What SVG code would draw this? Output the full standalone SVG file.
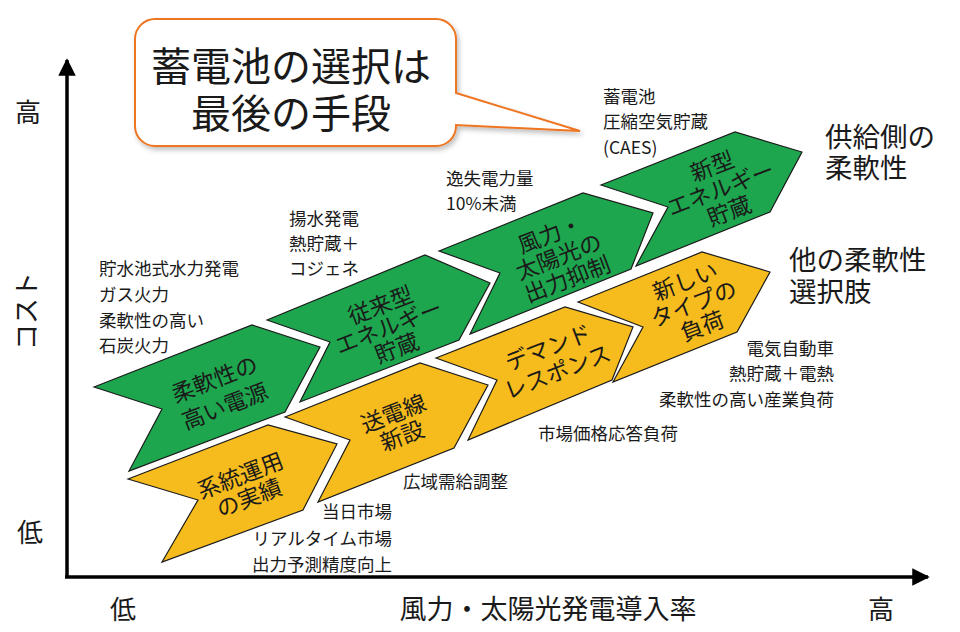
<svg xmlns="http://www.w3.org/2000/svg" width="960" height="632" viewBox="0 0 960 632">
<defs>
<style>
text{font-family:"Noto Sans CJK JP","Noto Sans",sans-serif;fill:#1a1a1a}
.g{fill:#1da64e;stroke:#1a1a1a;stroke-width:1.2;stroke-linejoin:miter}
.y{fill:#f6bb1c;stroke:#1a1a1a;stroke-width:1.2;stroke-linejoin:miter}
.lab{font-size:22.5px;text-anchor:middle;dominant-baseline:central}
.note{font-size:17.5px;dominant-baseline:central}
.r{text-anchor:end}
.big{font-size:27.5px;dominant-baseline:central}
.ax{font-size:26px;text-anchor:middle;dominant-baseline:central}
.axis{stroke:#000;stroke-width:3.5;fill:none}
</style>
<marker id="arr" viewBox="0 0 10 10" refX="9" refY="5" markerWidth="5" markerHeight="5" markerUnits="strokeWidth" orient="auto">
<path d="M0,0 L10,5 L0,10 Z" fill="#000"/>
</marker>
<filter id="sh" x="-10%" y="-10%" width="130%" height="140%">
<feDropShadow dx="2" dy="3" stdDeviation="2.5" flood-color="#000" flood-opacity="0.25"/>
</filter>
</defs>
<rect width="960" height="632" fill="#fff"/>

<g id="connectors">
<line class="axis" x1="67" y1="577" x2="67" y2="60" marker-end="url(#arr)"/>
<line class="axis" x1="65" y1="577" x2="928" y2="577" marker-end="url(#arr)"/>
</g>

<g id="callout">
<path d="M155,19 H436 A20,20 0 0 1 456,39 V93 L580,131 L456,125 V126 A20,20 0 0 1 436,146 H155 A20,20 0 0 1 135,126 V39 A20,20 0 0 1 155,19 Z" fill="#fff" stroke="#ee7522" stroke-width="2" filter="url(#sh)"/>
<text x="291" y="64" style="font-size:40px;text-anchor:middle;dominant-baseline:central">蓄電池の選択は</text>
<text x="291" y="111" style="font-size:40px;text-anchor:middle;dominant-baseline:central">最後の手段</text>
</g>

<g id="g1">
<polygon class="g" points="94,387 252,325 320,347 285,412 129,471 162,409"/>
<g transform="translate(219,391) rotate(-21)">
<text class="lab" x="0" y="-14.5">柔軟性の</text>
<text class="lab" x="0" y="14.5">高い電源</text>
</g>
</g>
<g id="g2">
<polygon class="g" points="267,320 425,255 490,283 459,340 300,402 330,342"/>
<g transform="translate(388,325) rotate(-21)">
<text class="lab" x="0" y="-23">従来型</text>
<text class="lab" x="0" y="0">エネルギー</text>
<text class="lab" x="0" y="23">貯蔵</text>
</g>
</g>
<g id="g3">
<polygon class="g" points="439,251 583,193 653,213 631,269 470,334 500,273"/>
<g transform="translate(558,255) rotate(-21)">
<text class="lab" x="0" y="-24">風力・</text>
<text class="lab" x="0" y="0">太陽光の</text>
<text class="lab" x="0" y="24">出力抑制</text>
</g>
</g>
<g id="g4">
<polygon class="g" points="601,185 735,132 802,152 770,212 636,266 668,207"/>
<g transform="translate(720,187) rotate(-21)">
<text class="lab" x="0" y="-24">新型</text>
<text class="lab" x="0" y="0">エネルギー</text>
<text class="lab" x="0" y="24">貯蔵</text>
</g>
</g>

<g id="y1">
<polygon class="y" points="128,479 268,425 337,444 303,510 162,562 198,500"/>
<g transform="translate(244,485) rotate(-21)">
<text class="lab" x="0" y="-12">系統運用</text>
<text class="lab" x="0" y="12">の実績</text>
</g>
</g>
<g id="y2">
<polygon class="y" points="285,417 420,363 488,385 454,448 318,502 350,440"/>
<g transform="translate(397,423) rotate(-21)">
<text class="lab" x="0" y="-12">送電線</text>
<text class="lab" x="0" y="12">新設</text>
</g>
</g>
<g id="y3">
<polygon class="y" points="436,358 565,307 633,327 612,380 468,440 497,380"/>
<g transform="translate(552,358) rotate(-21)">
<text class="lab" x="0" y="-13">デマンド</text>
<text class="lab" x="0" y="13">レスポンス</text>
</g>
</g>
<g id="y4">
<polygon class="y" points="578,302 702,252 770,272 737,332 613,382 643,327"/>
<g transform="translate(693,302) rotate(-21)">
<text class="lab" x="0" y="-24">新しい</text>
<text class="lab" x="0" y="0">タイプの</text>
<text class="lab" x="0" y="24">負荷</text>
</g>
</g>

<g id="notes">
<text class="note" x="99" y="267">貯水池式水力発電</text>
<text class="note" x="99" y="293">ガス火力</text>
<text class="note" x="99" y="319">柔軟性の高い</text>
<text class="note" x="99" y="344">石炭火力</text>

<text class="note" x="289" y="217">揚水発電</text>
<text class="note" x="289" y="242">熱貯蔵＋</text>
<text class="note" x="289" y="267">コジェネ</text>

<text class="note" x="446" y="177">逸失電力量</text>
<text class="note" x="446" y="202">10%未満</text>

<text class="note" x="603" y="95">蓄電池</text>
<text class="note" x="603" y="120">圧縮空気貯蔵</text>
<text class="note" x="603" y="146">(CAES)</text>

<text class="note r" x="834" y="347">電気自動車</text>
<text class="note r" x="834" y="372">熱貯蔵＋電熱</text>
<text class="note r" x="834" y="398">柔軟性の高い産業負荷</text>

<text class="note" x="538" y="432">市場価格応答負荷</text>
<text class="note" x="403" y="480">広域需給調整</text>

<text class="note r" x="392" y="510">当日市場</text>
<text class="note r" x="392" y="537">リアルタイム市場</text>
<text class="note r" x="392" y="563">出力予測精度向上</text>

<text class="big" x="825" y="135">供給側の</text>
<text class="big" x="825" y="166">柔軟性</text>
<text class="big" x="789" y="258">他の柔軟性</text>
<text class="big" x="789" y="290">選択肢</text>
</g>

<g id="axis-labels">
<text class="ax" x="28" y="110">高</text>
<text class="ax" x="30" y="530">低</text>
<text class="ax" transform="translate(24,311) rotate(-90)" x="0" y="0">コスト</text>
<text class="ax" x="123" y="607">低</text>
<text class="ax" x="548" y="607" style="font-size:27px">風力・太陽光発電導入率</text>
<text class="ax" x="881" y="607">高</text>
</g>
</svg>
